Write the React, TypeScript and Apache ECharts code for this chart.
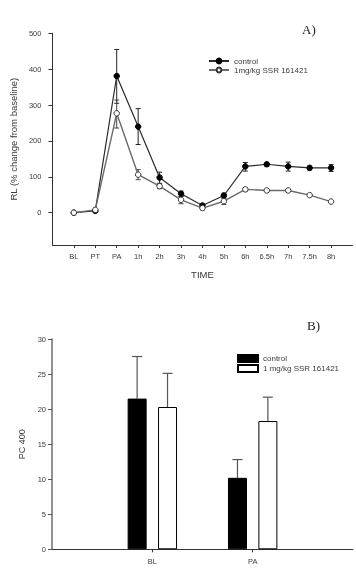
import React, { useEffect, useRef } from "react";
import * as echarts from "echarts";

const timeCats = ["", "BL", "PT", "PA", "1h", "2h", "3h", "4h", "5h", "6h", "6.5h", "7h", "7.5h", "8h", ""];
const controlRL = [null, 0, 5, 381, 240, 98, 53, 20, 48, 129, 135, 129, 125, 125, null];
const controlRLLow = [null, 0, 3, 305, 190, 82, 45, 15, 40, 116, 129, 116, 119, 115, null];
const controlRLHigh = [null, 0, 7, 455, 290, 113, 60, 24, 54, 140, 139, 141, 130, 134, null];
const treatedRL = [null, 0, 8, 277, 106, 74, 36, 13, 32, 65, 62, 62, 49, 31, null];
const treatedRLLow = [null, 0, 6, 236, 92, 67, 25, 8, 23, 59, 58, 58, 46, 28, null];
const treatedRLHigh = [null, 0, 10, 314, 120, 80, 45, 17, 42, 70, 66, 66, 52, 34, null];
const rlTicks = [0, 100, 200, 300, 400, 500];

const pcCats = ["", "BL", "PA", ""];
const controlPC = [null, 21.5, 10.2, null];
const controlPCErr = [null, 27.5, 12.8, null];
const treatedPC = [null, 20.3, 18.3, null];
const treatedPCErr = [null, 25.1, 21.7, null];

const FONT = "Liberation Sans";
const TXT = "#3a3a3a";

function errTriples(low: (number | null)[], high: (number | null)[]) {
  const out: any[] = [];
  low.forEach((l, i) => {
    if (l != null && high[i] != null) out.push([i, l, high[i]]);
  });
  return out;
}

function barErr(val: (number | null)[], err: (number | null)[]) {
  const out: any[] = [];
  val.forEach((v, i) => {
    if (v != null && err[i] != null) out.push([i, v, err[i]]);
  });
  return out;
}

export default function App() {
  const ref = useRef<HTMLDivElement>(null);
  useEffect(() => {
    const chart = echarts.init(ref.current!, null, { renderer: "svg" });

    const errRender = (cap: number, offset: number, color: string) => (params: any, api: any) => {
      const x = api.value(0);
      const lo = api.coord([x, api.value(1)]);
      const hi = api.coord([x, api.value(2)]);
      const cx = lo[0] + offset;
      const style = { stroke: color, lineWidth: 1 };
      return {
        type: "group",
        children: [
          { type: "line", shape: { x1: cx, y1: lo[1], x2: cx, y2: hi[1] }, style },
          { type: "line", shape: { x1: cx - cap / 2, y1: hi[1], x2: cx + cap / 2, y2: hi[1] }, style },
          { type: "line", shape: { x1: cx - cap / 2, y1: lo[1], x2: cx + cap / 2, y2: lo[1] }, style },
        ],
      };
    };

    const barErrRender = (offset: number) => (params: any, api: any) => {
      const x = api.value(0);
      const lo = api.coord([x, api.value(1)]);
      const hi = api.coord([x, api.value(2)]);
      const cx = lo[0] + offset;
      const style = { stroke: "#555", lineWidth: 1.2 };
      return {
        type: "group",
        children: [
          { type: "line", shape: { x1: cx, y1: lo[1], x2: cx, y2: hi[1] }, style },
          { type: "line", shape: { x1: cx - 5, y1: hi[1], x2: cx + 5, y2: hi[1] }, style },
        ],
      };
    };

    const axisLabelStyle = { color: TXT, fontFamily: FONT, fontSize: 7.5 };

    chart.setOption({
      animation: false,
      textStyle: { fontFamily: FONT },
      title: [
        { text: "A)", left: 297, top: 18, textStyle: { fontFamily: "Liberation Serif", fontSize: 13, fontWeight: "normal", color: "#222" } },
        { text: "B)", left: 302, top: 314, textStyle: { fontFamily: "Liberation Serif", fontSize: 13, fontWeight: "normal", color: "#222" } },
      ],
      legend: [
        {
          data: ["control", "1mg/kg SSR 161421"],
          orient: "vertical",
          left: 203,
          top: 52,
          itemWidth: 20,
          itemHeight: 6,
          itemGap: 1,
          textStyle: { color: TXT, fontFamily: FONT, fontSize: 8 },
          selectedMode: false,
        },
        {
          data: [
            { name: "control ", icon: "rect" },
            { name: "1 mg/kg SSR 161421", icon: "rect" },
          ],
          orient: "vertical",
          left: 232,
          top: 349,
          itemWidth: 20,
          itemHeight: 7,
          itemGap: 1,
          formatter: (n: string) => n.trim(),
          textStyle: { color: TXT, fontFamily: FONT, fontSize: 8 },
          selectedMode: false,
        },
      ],
      grid: [
        { left: 43.5, top: 33.3, width: 309, height: 211.7 },
        { left: 52, top: 339, width: 308, height: 210.3 },
      ],
      xAxis: [
        {
          gridIndex: 0,
          type: "category",
          data: timeCats,
          boundaryGap: false,
          name: "TIME",
          nameLocation: "middle",
          nameGap: 24,
          nameTextStyle: { color: TXT, fontFamily: FONT, fontSize: 9.5 },
          axisLine: { onZero: false, lineStyle: { color: "#333", width: 1 } },
          axisTick: { length: 3, interval: (i: number) => i > 0 && i < timeCats.length - 1, lineStyle: { color: "#333" } },
          axisLabel: { ...axisLabelStyle, margin: 7, interval: 0 },
          splitLine: { show: false },
        },
        {
          gridIndex: 1,
          type: "category",
          data: pcCats,
          boundaryGap: false,
          axisLine: { onZero: false, lineStyle: { color: "#333", width: 1 } },
          axisTick: { length: 3, interval: (i: number) => i > 0 && i < pcCats.length - 1, lineStyle: { color: "#333" } },
          axisLabel: { ...axisLabelStyle, margin: 8, interval: 0 },
          splitLine: { show: false },
        },
      ],
      yAxis: [
        {
          gridIndex: 0,
          type: "value",
          min: -90,
          max: 500,
          name: "RL (% change from baseline)",
          nameLocation: "middle",
          nameGap: 29,
          nameTextStyle: { color: TXT, fontFamily: FONT, fontSize: 9.5 },
          axisLine: { show: true, lineStyle: { color: "#333", width: 1 } },
          axisTick: { show: true, length: 4, customValues: rlTicks, lineStyle: { color: "#333" } },
          axisLabel: { ...axisLabelStyle, margin: 11, customValues: rlTicks },
          splitLine: { show: false },
        },
        {
          gridIndex: 1,
          type: "value",
          min: 0,
          max: 30,
          interval: 5,
          name: "PC 400",
          nameLocation: "middle",
          nameGap: 22,
          nameTextStyle: { color: TXT, fontFamily: FONT, fontSize: 9 },
          axisLine: { show: true, lineStyle: { color: "#777", width: 1.6 } },
          axisTick: { show: true, length: 4, lineStyle: { color: "#555" } },
          axisLabel: { ...axisLabelStyle, margin: 6 },
          splitLine: { show: false },
        },
      ],
      series: [
        {
          type: "custom",
          name: "errControlRL",
          xAxisIndex: 0,
          yAxisIndex: 0,
          renderItem: errRender(5, 0, "#222"),
          data: errTriples(controlRLLow, controlRLHigh),
          z: 1,
        },
        {
          type: "custom",
          name: "errTreatedRL",
          xAxisIndex: 0,
          yAxisIndex: 0,
          renderItem: errRender(5, 0, "#444"),
          data: errTriples(treatedRLLow, treatedRLHigh),
          z: 1,
        },
        {
          type: "line",
          name: "control",
          xAxisIndex: 0,
          yAxisIndex: 0,
          data: controlRL,
          symbol: "circle",
          symbolSize: 5.5,
          lineStyle: { color: "#2a2a2a", width: 1.2 },
          itemStyle: { color: "#000", borderColor: "#000", borderWidth: 1 },
          z: 3,
        },
        {
          type: "line",
          name: "1mg/kg SSR 161421",
          xAxisIndex: 0,
          yAxisIndex: 0,
          data: treatedRL,
          symbol: "circle",
          symbolSize: 5.5,
          lineStyle: { color: "#6a6a6a", width: 1.4 },
          itemStyle: { color: "#fff", borderColor: "#333", borderWidth: 1 },
          z: 4,
        },
        {
          type: "bar",
          name: "control ",
          xAxisIndex: 1,
          yAxisIndex: 1,
          data: controlPC,
          barWidth: 19,
          barGap: "60%",
          itemStyle: { color: "#000", borderColor: "#000", borderWidth: 1 },
        },
        {
          type: "bar",
          name: "1 mg/kg SSR 161421",
          xAxisIndex: 1,
          yAxisIndex: 1,
          data: treatedPC,
          barWidth: 19,
          barGap: "60%",
          itemStyle: { color: "#fff", borderColor: "#000", borderWidth: 1 },
        },
        {
          type: "custom",
          name: "errControlPC",
          xAxisIndex: 1,
          yAxisIndex: 1,
          renderItem: barErrRender(-15.2),
          data: barErr(controlPC, controlPCErr),
        },
        {
          type: "custom",
          name: "errTreatedPC",
          xAxisIndex: 1,
          yAxisIndex: 1,
          renderItem: barErrRender(15.2),
          data: barErr(treatedPC, treatedPCErr),
        },
      ],
    });
    return () => chart.dispose();
  }, []);
  return <div ref={ref} style={{ position: "fixed", left: 0, top: 0, width: 356, height: 576 }} />;
}
